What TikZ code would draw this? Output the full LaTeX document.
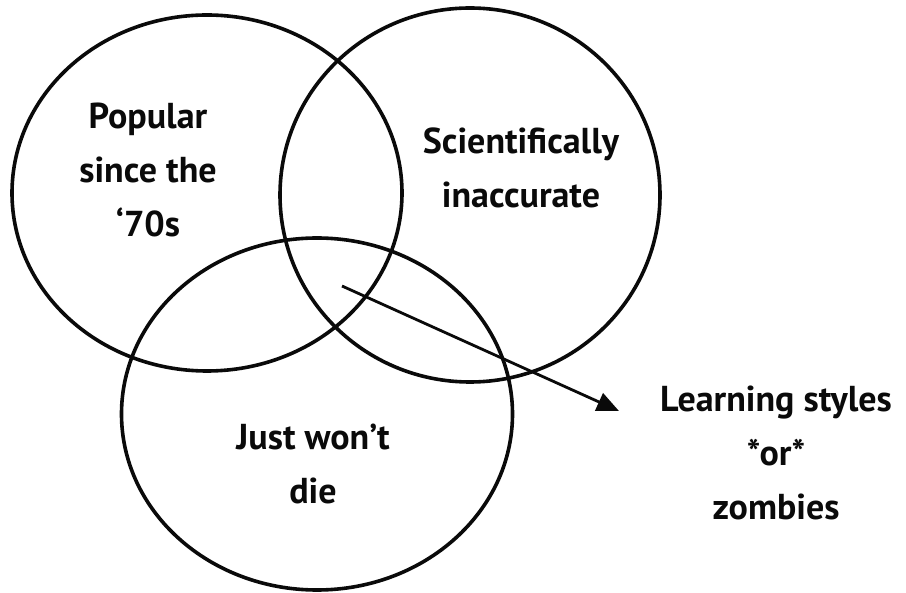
\documentclass[tikz,border=0pt]{standalone}
\usepackage{fontspec}
\setmainfont{PT Sans}
\usepackage{tikz}
\usetikzlibrary{shapes.geometric,arrows.meta}
\definecolor{inkc}{RGB}{10,10,10}
\tikzset{
  ring/.style={ellipse,draw=inkc,line width=3.6pt,inner sep=0pt},
  lbl/.style={align=center,text=inkc,font=\fontsize{36}{54}\selectfont\bfseries},
  pointer/.style={-{Triangle[length=22pt,width=19pt]},line width=2.8pt,inkc},
}
\begin{document}
\begin{tikzpicture}[x=1pt,y=-1pt]
  \useasboundingbox (0,0) rectangle (906,593);
  \node[ring,minimum width=390pt,minimum height=356pt](pop) at (207,193){};
  \node[ring,minimum width=380pt,minimum height=374pt](sci) at (470,195){};
  \node[ring,minimum width=391pt,minimum height=352pt](die) at (317,414){};
  \node[lbl](popt) at (148,170){Popular\\since the\\‘70s};
  \node[lbl](scit) at (521,168){Scientifically\\inaccurate};
  \node[lbl](diet) at (313,464){Just won’t\\die};
  \node[lbl](zomb) at (776,453){Learning styles\\*or*\\zombies};
  % the middle bit
  \coordinate (core) at (342,286);
  \coordinate (tip) at (619,411);
  \draw[pointer] (core)--(tip);
\end{tikzpicture}
\end{document}
